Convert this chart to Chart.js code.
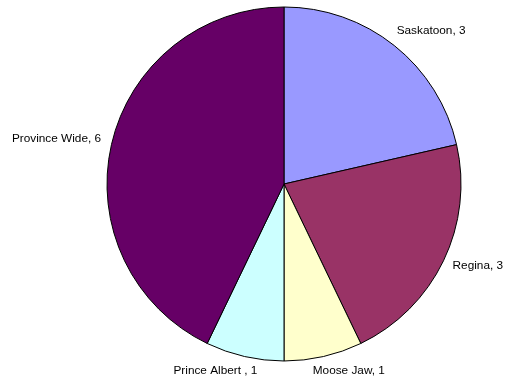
<!DOCTYPE html>
<html>
<head>
<meta charset="utf-8">
<script src="https://cdn.jsdelivr.net/npm/chart.js@4"></script>
<style>
  html, body { margin: 0; padding: 0; background: #fff; }
  #wrap { width: 506px; height: 381px; }
</style>
</head>
<body>
<div id="wrap"><canvas id="pie"></canvas></div>
<script>
// slices, clockwise from 12 o'clock
const regions = ['Saskatoon', 'Regina', 'Moose Jaw', 'Prince Albert ', 'Province Wide'];
const counts = [3, 3, 1, 1, 6];
const sliceColors = ['#9999ff', '#993366', '#ffffcc', '#ccffff', '#660066'];

// category labels outside the pie, e.g. "Regina, 3"
const outsideLabels = {
  id: 'outsideLabels',
  afterDatasetsDraw(chart) {
    const ctx = chart.ctx;
    const meta = chart.getDatasetMeta(0);
    ctx.save();
    ctx.font = '11.8px "Liberation Sans", Arial, sans-serif';
    ctx.fillStyle = '#000';
    ctx.textBaseline = 'middle';
    ctx.textAlign = 'left';
    meta.data.forEach((arc, i) => {
      const mid = (arc.startAngle + arc.endAngle) / 2;
      // labels sit on a slightly taller-than-wide ring around the pie
      const x = arc.x + Math.cos(mid) * (arc.outerRadius + 11);
      const y = arc.y + Math.sin(mid) * (arc.outerRadius + 17) - 2;
      const text = regions[i] + ', ' + counts[i];
      const w = ctx.measureText(text).width;
      const c = Math.cos(mid);
      // right side hangs to the right, left side to the left, bottom ones mostly so
      const shift = 0.5 - 0.5 * Math.sign(c) * Math.pow(Math.abs(c), 0.3);
      ctx.fillText(text, x - w * shift, y);
    });
    ctx.restore();
  }
};

new Chart(document.getElementById('pie'), {
  type: 'pie',
  data: {
    labels: regions,
    datasets: [{
      data: counts,
      backgroundColor: sliceColors,
      borderColor: '#000',
      borderWidth: 1
    }]
  },
  options: {
    responsive: true,
    maintainAspectRatio: false,
    animation: false,
    radius: 177,
    layout: { padding: { left: 62, right: 0, top: 0, bottom: 13 } },
    plugins: {
      legend: { display: false },
      tooltip: { enabled: false }
    }
  },
  plugins: [outsideLabels]
});
</script>
</body>
</html>
